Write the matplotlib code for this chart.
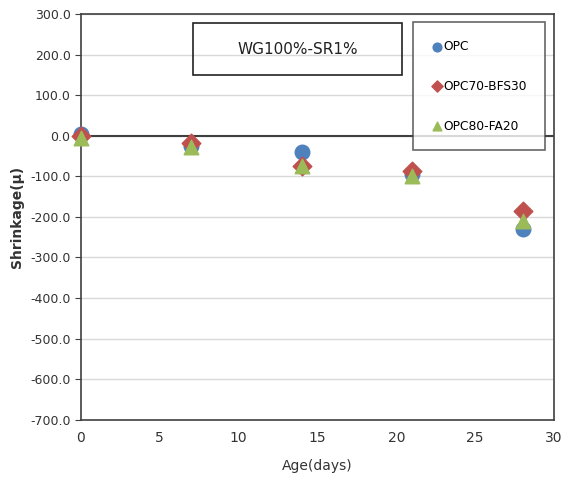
import matplotlib.pyplot as plt
from matplotlib.ticker import FormatStrFormatter

age = [0, 7, 14, 21, 28]
opc = [5, -25, -40, -95, -230]
opc70_bfs30 = [0, -18, -75, -88, -185]
opc80_fa20 = [-5, -28, -75, -100, -210]

fig = plt.figure(figsize=(5.7, 4.98), dpi=100)
ax = fig.add_axes([0.142, 0.157, 0.830, 0.815])

ax.scatter(age, opc, s=110, marker='o', color='#4F81BD', label='OPC', zorder=3, clip_on=False)
ax.scatter(age, opc70_bfs30, s=90, marker='D', color='#C0504D', label='OPC70-BFS30', zorder=4, clip_on=False)
ax.scatter(age, opc80_fa20, s=110, marker='^', color='#9BBB59', label='OPC80-FA20', zorder=5, clip_on=False)

ax.set_xlim(0, 30)
ax.set_ylim(-700, 300)
ax.set_xticks(range(0, 31, 5))
ax.set_yticks(range(-700, 301, 100))
ax.yaxis.set_major_formatter(FormatStrFormatter('%.1f'))
ax.grid(axis='y', color='#d9d9d9', linewidth=1)
ax.set_axisbelow(True)
ax.axhline(0, color='#404040', linewidth=1.5, zorder=2)
for s in ax.spines.values():
    s.set_color('#404040')
    s.set_linewidth(1.2)
ax.tick_params(axis='y', length=4, color='#404040', labelsize=9, labelcolor='#333333')
ax.tick_params(axis='x', length=0, pad=8, labelsize=10, labelcolor='#333333')

ax.set_xlabel('Age(days)', fontsize=10, color='#333333', labelpad=10)
ax.set_ylabel('Shrinkage(μ)', fontsize=10, fontweight='bold', color='#333333')

# title box
rect = plt.Rectangle((193 / 570, 1 - 75 / 498), (402 - 193) / 570, (75 - 23) / 498,
                     transform=fig.transFigure, fill=False, edgecolor='#222222', linewidth=1.2)
fig.add_artist(rect)
fig.text((193 + 402) / 2 / 570, 1 - 49 / 498, 'WG100%-SR1%', fontsize=11,
         ha='center', va='center', color='#222222')

leg = ax.legend(loc='upper right', bbox_to_anchor=(0.981, 0.980), frameon=True, fancybox=False,
                edgecolor='#404040', fontsize=8.8, markerscale=0.6, handletextpad=0.05,
                labelspacing=2.2, borderpad=1.45, handlelength=1.0, borderaxespad=0)
leg.get_frame().set_linewidth(1.2)
leg.set_zorder(10)

fig.savefig('out.png', dpi=100)
